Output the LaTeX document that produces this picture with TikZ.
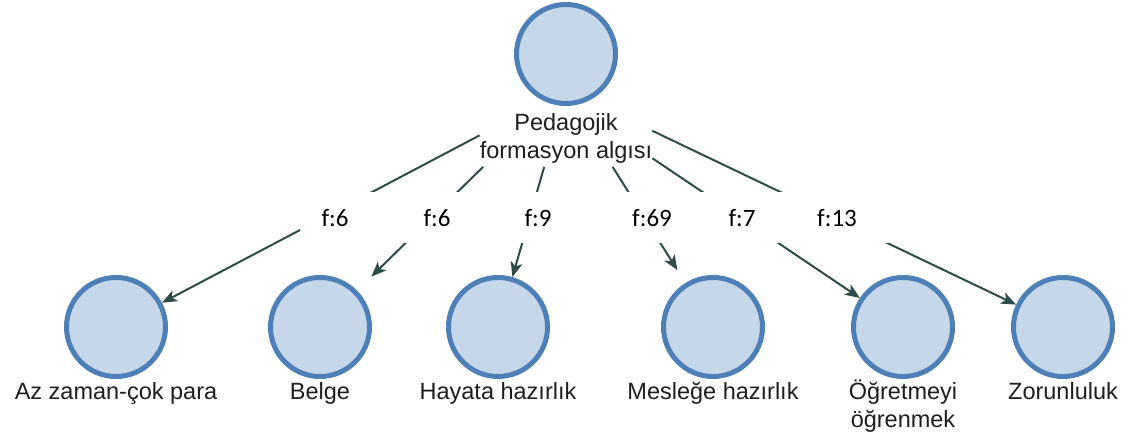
\documentclass[tikz,border=0pt]{standalone}
\usepackage{fontspec}
\setmainfont{Liberation Sans}
\newfontfamily\freqfont{Carlito}
\usetikzlibrary{arrows.meta,positioning}
\definecolor{ringblue}{HTML}{4E80B8}
\definecolor{fillblue}{HTML}{C6D7EA}
\definecolor{edgegreen}{HTML}{2F4B48}
\definecolor{ink}{HTML}{1E1E1E}
\tikzset{
  theme/.style={circle, draw=ringblue, fill=fillblue, line width=5pt, minimum size=99pt, inner sep=0pt},
  nodelbl/.style={inner sep=0pt, align=center, text=ink, font=\fontsize{23.5}{28}\selectfont,
                  execute at begin node=\strut},
  freq/.style={fill=white, minimum width=110pt, minimum height=51pt, inner sep=0pt,
               font=\freqfont\fontsize{25}{30}\selectfont},
  link/.style={-{Stealth[length=15pt, width=12pt, inset=4pt]}, draw=edgegreen, line width=2pt}
}

\begin{document}
\begin{tikzpicture}[x=1pt, y=1pt, node distance=1pt]
  \useasboundingbox (0,0) rectangle (1132,435);

  % root theme and its children
  \node[theme] (root) at (566,381) {};
  \node[nodelbl, below=7pt of root] (rootlbl) {Pedagojik\\formasyon algısı};

  \node[theme] (az) at (116,108) {};
  \node[theme] (belge) at (320,108) {};
  \node[theme] (hayata) at (498,108) {};
  \node[theme] (meslek) at (713,108) {};
  \node[theme] (ogretmek) at (903,108) {};
  \node[theme] (zorunlu) at (1063,108) {};

  \node[nodelbl, below=of az] (azlbl) {Az zaman-çok para};
  \node[nodelbl, below=of belge] (belgelbl) {Belge};
  \node[nodelbl, below=of hayata] (hayatalbl) {Hayata hazırlık};
  \node[nodelbl, below=of meslek] (mesleklbl) {Mesleğe hazırlık};
  \node[nodelbl, below=of ogretmek] (ogretmeklbl) {Öğretmeyi\\öğrenmek};
  \node[nodelbl, below=of zorunlu] (zorunlulbl) {Zorunluluk};

  \draw[link] (rootlbl.177) -- (az);
  \draw[link, shorten >=20pt] (rootlbl.198) -- (belge);
  \draw[link] (rootlbl.231) -- (hayata);
  \draw[link, shorten >=15pt] (rootlbl.330) -- (meslek);
  \draw[link] (rootlbl.348) -- (ogretmek);
  \draw[link] (rootlbl.6) -- (zorunlu);

  % frequencies sit on white boxes over the links
  \node[freq, minimum width=90pt] (f1) at (345,217) {f:6\hspace*{20pt}};
  \node[freq] (f2) at (437,217) {f:6};
  \node[freq] (f3) at (538,217) {f:9};
  \node[freq] (f4) at (652,217) {f:69};
  \node[freq] (f5) at (742,217) {f:7};
  \node[freq] (f6) at (837,217) {f:13};
\end{tikzpicture}
\end{document}
